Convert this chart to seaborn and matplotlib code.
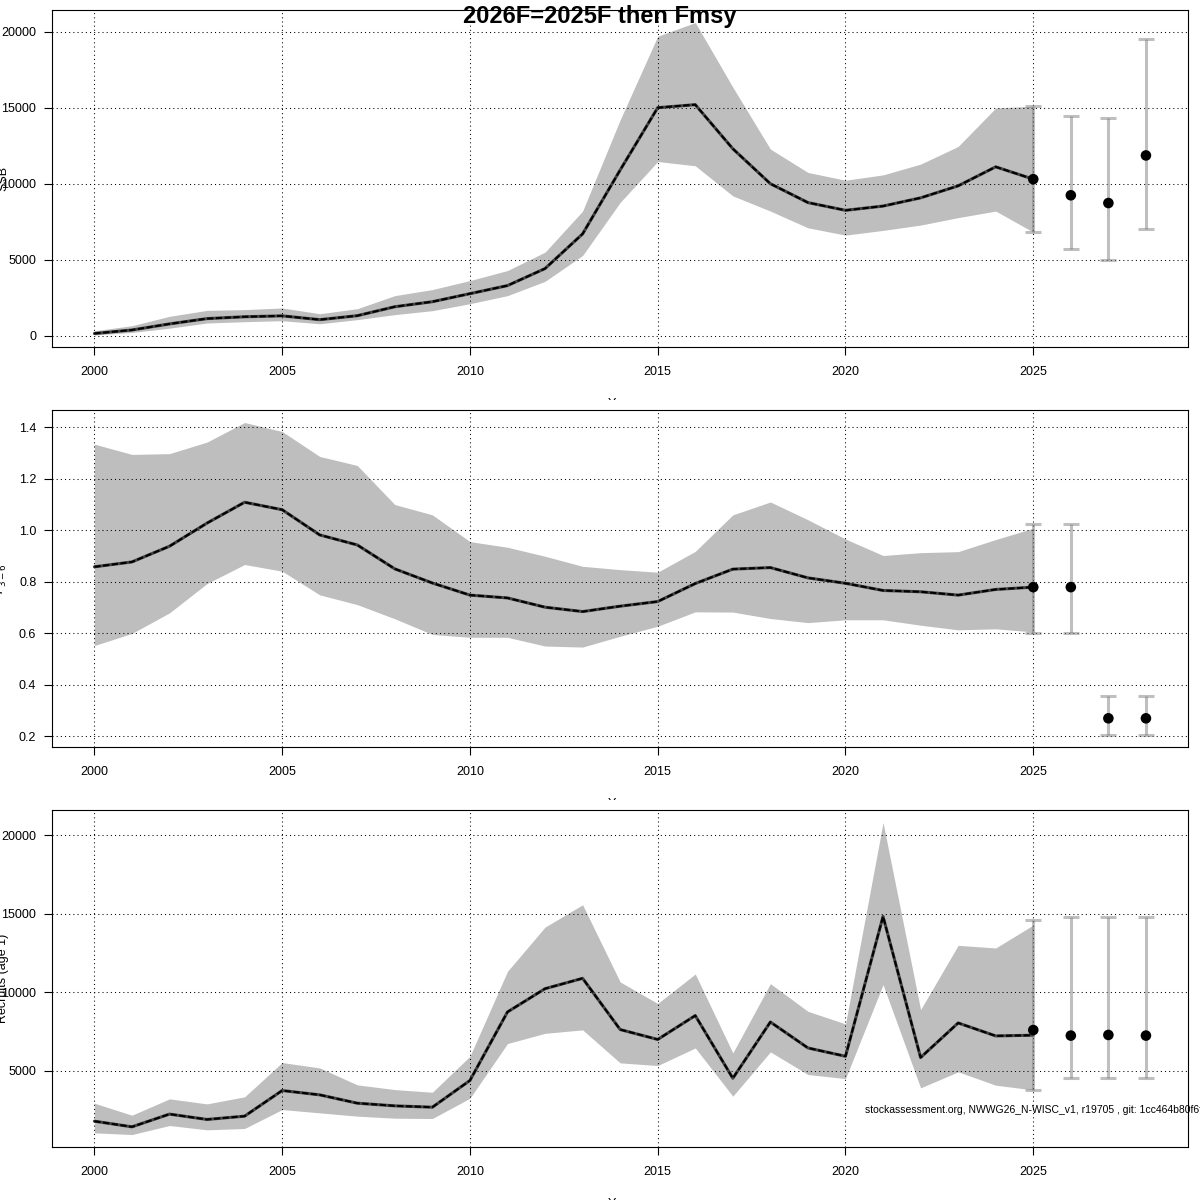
import numpy as np
import pandas as pd
import seaborn as sns
import matplotlib.pyplot as plt
from matplotlib.transforms import Bbox, TransformedBbox

# ---------------------------------------------------------------------
#   Data
# ---------------------------------------------------------------------
years = list(range(2000, 2026))

ssb = [150, 380, 780, 1130, 1250, 1310, 1060, 1320, 1910, 2240, 2770, 3300, 4420, 6700,
       10900, 15000, 15200, 12300, 10000, 8760, 8250, 8530, 9070, 9860, 11110, 10300]
ssb_hi = [330, 660, 1280, 1670, 1720, 1830, 1450, 1780, 2640, 3040, 3630, 4290, 5500, 8200,
          14200, 19700, 20600, 16350, 12280, 10740, 10230, 10580, 11290, 12450, 14980, 15100]
ssb_lo = [50, 220, 500, 840, 925, 990, 790, 1060, 1390, 1650, 2110, 2640, 3580, 5280,
          8770, 11460, 11180, 9200, 8200, 7100, 6620, 6930, 7280, 7770, 8200, 6820]

fbar = [0.858, 0.877, 0.938, 1.028, 1.109, 1.080, 0.982, 0.943, 0.850, 0.795, 0.748, 0.737, 0.701,
        0.684, 0.705, 0.723, 0.793, 0.849, 0.855, 0.815, 0.794, 0.766, 0.761, 0.748, 0.770, 0.779]
fbar_hi = [1.335, 1.295, 1.298, 1.343, 1.419, 1.384, 1.287, 1.252, 1.100, 1.060, 0.956, 0.934, 0.899,
           0.860, 0.847, 0.837, 0.918, 1.060, 1.110, 1.041, 0.966, 0.902, 0.913, 0.917, 0.964, 1.008]
fbar_lo = [0.552, 0.599, 0.679, 0.793, 0.867, 0.841, 0.749, 0.711, 0.656, 0.595, 0.584, 0.584, 0.550,
           0.546, 0.588, 0.627, 0.683, 0.682, 0.657, 0.641, 0.652, 0.652, 0.631, 0.613, 0.617, 0.605]

rec = [1800, 1440, 2250, 1910, 2120, 3750, 3475, 2945, 2775, 2690, 4390, 8750, 10230, 10890,
       7630, 7000, 8520, 4530, 8110, 6460, 5930, 14830, 5850, 8050, 7225, 7270]
rec_hi = [2945, 2180, 3220, 2900, 3350, 5530, 5190, 4110, 3810, 3640, 5930, 11335, 14150, 15570,
          10660, 9290, 11165, 6145, 10550, 8790, 7990, 20800, 8900, 12990, 12820, 14280]
rec_lo = [1060, 950, 1525, 1250, 1335, 2540, 2330, 2120, 1990, 1970, 3260, 6740, 7390, 7610,
          5510, 5340, 6460, 3390, 6210, 4770, 4510, 10490, 3920, 4940, 4090, 3790]

fc_years = [2025, 2026, 2027, 2028]
ssb_fc = [10300, 9240, 8730, 11860]
ssb_fc_lo = [6840, 5680, 5000, 7000]
ssb_fc_hi = [15100, 14450, 14300, 19540]
fbar_fc = [0.779, 0.779, 0.269, 0.269]
fbar_fc_lo = [0.600, 0.600, 0.206, 0.206]
fbar_fc_hi = [1.023, 1.023, 0.355, 0.355]
rec_fc = [7600, 7246, 7288, 7246]
rec_fc_lo = [3814, 4534, 4534, 4534]
rec_fc_hi = [14600, 14810, 14810, 14810]

titulo = "2026F=2025F then Fmsy"
rodape = "stockassessment.org, NWWG26_N-WISC_v1, r19705 , git: 1cc464b80f6f"

# ---------------------------------------------------------------------
#   Style
# ---------------------------------------------------------------------
sns.set_theme(style='white')
plt.rcParams['font.family'] = ['Liberation Sans', 'DejaVu Sans']
plt.rcParams['axes.edgecolor'] = 'black'
plt.rcParams['axes.linewidth'] = 0.8

BANDA = '#BEBEBE'
BARRA = (0.5, 0.5, 0.5, 0.5)

fig = plt.figure(figsize=(12, 12), dpi=100)

# panel boxes in figure fractions (left, bottom, width, height)
caixas = [
    (0.0436, 0.7108, 0.9464, 0.2808),
    (0.0436, 0.3775, 0.9464, 0.2808),
    (0.0436, 0.0442, 0.9464, 0.2808),
]

paineis = [
    dict(est=ssb, lo=ssb_lo, hi=ssb_hi, fc=ssb_fc, fclo=ssb_fc_lo, fchi=ssb_fc_hi,
         ylabel='SSB', yticks=[0, 5000, 10000, 15000, 20000], ylim=(-741, 21420),
         fmt=lambda v: f'{v:.0f}'),
    dict(est=fbar, lo=fbar_lo, hi=fbar_hi, fc=fbar_fc, fclo=fbar_fc_lo, fchi=fbar_fc_hi,
         ylabel=r'$\overline{F}_{3-6}$', yticks=[0.2, 0.4, 0.6, 0.8, 1.0, 1.2, 1.4],
         ylim=(0.1575, 1.4675), fmt=lambda v: f'{v:.1f}'),
    dict(est=rec, lo=rec_lo, hi=rec_hi, fc=rec_fc, fclo=rec_fc_lo, fchi=rec_fc_hi,
         ylabel='Recruits (age 1)', yticks=[5000, 10000, 15000, 20000], ylim=(160, 21600),
         fmt=lambda v: f'{v:.0f}'),
]

for i, (caixa, p) in enumerate(zip(caixas, paineis)):
    ax = fig.add_axes(caixa)
    df = pd.DataFrame({'Year': years, 'est': p['est'], 'lo': p['lo'], 'hi': p['hi']})
    fc = pd.DataFrame({'Year': fc_years, 'v': p['fc'], 'lo': p['fclo'], 'hi': p['fchi']})

    # confidence band
    ax.fill_between(df['Year'], df['lo'], df['hi'], color=BANDA, lw=0, zorder=1)

    # estimate line: dark base with a dashed black overlay
    sns.lineplot(data=df, x='Year', y='est', ax=ax, color='#444444', lw=2.2, zorder=3)
    ax.plot(df['Year'], df['est'], color='black', lw=1.5, dashes=(3, 1.2), zorder=3)

    # forecast intervals and medians
    ax.errorbar(fc['Year'], fc['v'], yerr=[fc['v'] - fc['lo'], fc['hi'] - fc['v']],
                fmt='none', ecolor=BARRA, elinewidth=2.2, capsize=5.8, capthick=2.2, zorder=3)
    sns.scatterplot(data=fc, x='Year', y='v', ax=ax, color='black', s=58,
                    edgecolor='none', zorder=4)

    ax.set_xlim(1998.88, 2029.12)
    ax.set_ylim(*p['ylim'])
    ax.set_xticks(range(2000, 2026, 5))
    ax.set_yticks(p['yticks'])
    ax.set_yticklabels([p['fmt'](v) for v in p['yticks']])

    ax.set_axisbelow(False)
    ax.grid(True, color='black', lw=0.75, linestyle=(0, (1, 3)))
    ax.tick_params(axis='y', which='major', direction='out', length=5.5, width=0.8,
                   color='black', labelsize=9, labelcolor='black', pad=6, left=True)
    ax.tick_params(axis='x', which='major', direction='out', length=5.5, width=0.8,
                   color='black', labelsize=9, labelcolor='black', pad=8, bottom=True)

    ax.set_xlabel('')
    ax.set_ylabel(p['ylabel'], fontsize=9, color='black')
    ax.yaxis.set_label_coords(-0.038, 0.5)

    # "Year" label, clipped at the panel region like the R device does
    t = ax.text(0.5, -0.151, 'Year', transform=ax.transAxes, ha='center', va='top',
                fontsize=9, color='black')
    regiao = Bbox([[0, (2 - i) / 3], [1, (3 - i) / 3]])
    t.set_clip_box(TransformedBbox(regiao, fig.transFigure))
    t.set_clip_on(True)

    for lado in ax.spines.values():
        lado.set_visible(True)
        lado.set_color('black')
        lado.set_linewidth(0.8)

fig.text(0.5, 1 - 17 / 1200, titulo, ha='center', va='center', fontsize=17,
         fontweight='bold', color='black', zorder=10)
fig.text(865 / 1200, 1 - 1110 / 1200, rodape, ha='left', va='center', fontsize=7.5,
         color='black', zorder=10)

fig.savefig('out.png', dpi=100)
